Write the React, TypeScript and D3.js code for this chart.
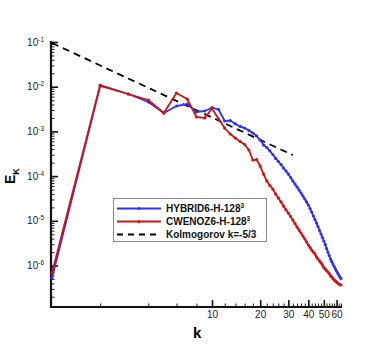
import { useRef, useEffect } from 'react';
import * as d3 from 'd3';

// wavenumbers 1..64
const waveNumbers = d3.range(1, 65);

// HYBRID6-H-128^3 energy spectrum
const hybridE = [
  5.25e-7, 1.04e-2, 6.87e-3, 4.55e-3, 2.58e-3, 3.7e-3, 4.1e-3, 2.72e-3, 2.86e-3, 3.39e-3,
  3.09e-3, 1.71e-3, 1.75e-3, 1.47e-3, 1.29e-3, 1.19e-3, 1.05e-3, 9.2e-4, 7.9e-4, 6.4e-4,
  4.97e-4, 4.37e-4, 3.65e-4, 3.04e-4, 2.48e-4, 2.12e-4, 1.82e-4, 1.52e-4, 1.3e-4, 1.11e-4,
  9.3e-5, 7.8e-5, 6.65e-5, 5.7e-5, 4.89e-5, 4.19e-5, 3.59e-5, 3.08e-5, 2.64e-5, 2.26e-5,
  1.88e-5, 1.57e-5, 1.28e-5, 1.07e-5, 8.9e-6, 7.45e-6, 6.07e-6, 5.07e-6, 4.23e-6, 3.53e-6,
  2.95e-6, 2.4e-6, 2.0e-6, 1.67e-6, 1.4e-6, 1.23e-6, 1.08e-6, 9.5e-7, 8.36e-7, 7.5e-7,
  6.8e-7, 6.1e-7, 5.5e-7, 5.1e-7,
];

// CWENOZ6-H-128^3 energy spectrum
const cwenozE = [
  6.8e-7, 1.09e-2, 6.87e-3, 5.04e-3, 2.58e-3, 7.23e-3, 5.31e-3, 2.1e-3, 2.0e-3, 3.25e-3,
  1.89e-3, 1.19e-3, 8.75e-4, 7.1e-4, 5.94e-4, 5.09e-4, 3.84e-4, 2.29e-4, 2.35e-4, 1.68e-4,
  1.11e-4, 7.8e-5, 6.16e-5, 5.14e-5, 3.98e-5, 3.24e-5, 2.64e-5, 2.14e-5, 1.75e-5, 1.49e-5,
  1.25e-5, 1.04e-5, 8.7e-6, 7.26e-6, 6.22e-6, 5.33e-6, 4.57e-6, 3.92e-6, 3.36e-6, 2.88e-6,
  2.53e-6, 2.22e-6, 2.0e-6, 1.81e-6, 1.55e-6, 1.4e-6, 1.26e-6, 1.14e-6, 1.03e-6, 9.0e-7,
  8.36e-7, 7.73e-7, 7.16e-7, 6.62e-7, 5.97e-7, 5.53e-7, 5.12e-7, 4.74e-7, 4.5e-7, 4.28e-7,
  4.06e-7, 3.86e-7, 3.76e-7, 3.66e-7,
];

// Kolmogorov k^-5/3 reference line endpoints
const kolmogorovK = [1, 32];
const kolmogorovE = [0.095, 2.95e-4];

const yMajorTicks = [1e-1, 1e-2, 1e-3, 1e-4, 1e-5, 1e-6];
const yTickExponents = ['-1', '-2', '-3', '-4', '-5', '-6'];
const xMajorTicks = [10, 20, 30, 40, 50, 60];
const xMinorTicks = [2, 4, 6, 8, 12, 14, 16, 18, 22, 24, 26, 28, 32, 34, 36, 38, 42, 44, 46, 48, 52, 54, 56, 58, 62, 64];

const legendLabels = ['HYBRID6-H-128', 'CWENOZ6-H-128', 'Kolmogorov k=-5/3'];

function App() {
  const svgRef = useRef(null);
  const width = 389;
  const height = 346;
  const blue = '#3131f2';
  const red = '#d01414';

  useEffect(() => {
    const svg = d3.select(svgRef.current);
    svg.selectAll('*').remove();
    svg.style('font-family', 'Arial, "Liberation Sans", sans-serif');

    const x = d3.scaleLog().domain([1, 64]).range([52, 341]);
    const y = d3.scaleLog().domain([1.18e-7, 0.1]).range([307, 42]);

    // y axis
    const yMinor = y.ticks().filter((d) => !yMajorTicks.some((m) => Math.abs(m - d) / m < 1e-6));
    svg
      .append('g')
      .attr('transform', 'translate(51,0)')
      .call(d3.axisLeft(y).tickValues(yMinor).tickSize(-3.5).tickFormat(() => '').tickSizeOuter(0))
      .call((g) => g.select('.domain').remove())
      .call((g) => g.selectAll('.tick line').attr('stroke-width', 1).attr('stroke', '#222'));
    svg
      .append('g')
      .attr('transform', 'translate(51,0)')
      .call(d3.axisLeft(y).tickValues(yMajorTicks).tickSize(-7).tickFormat(() => '').tickSizeOuter(0))
      .call((g) => g.select('.domain').remove())
      .call((g) => g.selectAll('.tick line').attr('stroke-width', 1.6).attr('stroke', '#111'));

    const yLabels = svg.append('g').attr('fill', '#222');
    yMajorTicks.forEach((t, i) => {
      const txt = yLabels
        .append('text')
        .attr('x', 44)
        .attr('y', y(t) + 3.5)
        .attr('text-anchor', 'end')
        .style('font-size', '10px');
      txt.append('tspan').text('10');
      txt.append('tspan').attr('dy', -4).style('font-size', '6.5px').text(yTickExponents[i]);
    });

    // x axis
    svg
      .append('g')
      .attr('transform', 'translate(0,307)')
      .call(d3.axisBottom(x).tickValues(xMinorTicks).tickSize(-3.5).tickFormat(() => '').tickSizeOuter(0))
      .call((g) => g.select('.domain').remove())
      .call((g) => g.selectAll('.tick line').attr('stroke-width', 1).attr('stroke', '#222'));
    svg
      .append('g')
      .attr('transform', 'translate(0,307)')
      .call(d3.axisBottom(x).tickValues(xMajorTicks).tickSize(-7).tickFormat(d3.format('d')).tickSizeOuter(0))
      .call((g) => g.select('.domain').remove())
      .call((g) => g.selectAll('.tick line').attr('stroke-width', 1.6).attr('stroke', '#111'))
      .call((g) =>
        g
          .selectAll('.tick text')
          .attr('y', 4)
          .attr('dy', '0.71em')
          .attr('fill', '#222')
          .style('font-size', '10px')
          .style('font-family', 'Arial, "Liberation Sans", sans-serif')
      );

    // axis lines
    svg.append('line').attr('x1', 51).attr('x2', 51).attr('y1', 41).attr('y2', 308).attr('stroke', '#111').attr('stroke-width', 2.2);
    svg.append('line').attr('x1', 50).attr('x2', 342).attr('y1', 307).attr('y2', 307).attr('stroke', '#111').attr('stroke-width', 2.2);

    // axis titles
    const yTitle = svg
      .append('text')
      .attr('transform', 'translate(15,184) rotate(-90)')
      .style('font-weight', 700)
      .style('font-size', '14px');
    yTitle.append('tspan').text('E');
    yTitle.append('tspan').attr('dy', 4).style('font-size', '9px').text('K');

    svg
      .append('text')
      .attr('x', 193)
      .attr('y', 338)
      .style('font-weight', 700)
      .style('font-size', '15px')
      .text('k');

    // Kolmogorov line
    const kolData = kolmogorovK.map((k, i) => ({ k, e: kolmogorovE[i] }));
    const kolLine = d3
      .line()
      .x((d) => x(d.k))
      .y((d) => y(d.e));
    svg
      .append('path')
      .datum(kolData)
      .attr('fill', 'none')
      .attr('stroke', '#000')
      .attr('stroke-width', 1.8)
      .attr('stroke-dasharray', '7,5')
      .attr('d', kolLine);

    const series = [
      { values: hybridE, color: blue },
      { values: cwenozE, color: red },
    ];

    series.forEach((s) => {
      const data = waveNumbers.map((k, i) => ({ k, e: s.values[i] }));
      const line = d3
        .line()
        .x((d) => x(d.k))
        .y((d) => y(d.e));
      svg
        .append('path')
        .datum(data)
        .attr('fill', 'none')
        .attr('stroke', s.color)
        .attr('stroke-width', 1.8)
        .attr('stroke-linejoin', 'round')
        .attr('d', line);
      svg
        .append('g')
        .selectAll('circle')
        .data(data)
        .join('circle')
        .attr('cx', (d) => x(d.k))
        .attr('cy', (d) => y(d.e))
        .attr('r', 1.6)
        .attr('fill', s.color);
    });

    // legend
    const legend = svg.append('g');
    legend
      .append('rect')
      .attr('x', 113.5)
      .attr('y', 198.5)
      .attr('width', 153)
      .attr('height', 43)
      .attr('fill', '#fff')
      .attr('stroke', '#888')
      .attr('stroke-width', 1);

    const rowY = [208.5, 221.5, 234.5];
    const rowColors = [blue, red, '#000'];
    legendLabels.forEach((label, i) => {
      legend
        .append('line')
        .attr('x1', 117)
        .attr('x2', 161)
        .attr('y1', rowY[i])
        .attr('y2', rowY[i])
        .attr('stroke', rowColors[i])
        .attr('stroke-width', 1.8)
        .attr('stroke-dasharray', i === 2 ? '6,5' : null);
      if (i < 2) {
        legend.append('circle').attr('cx', 139).attr('cy', rowY[i]).attr('r', 1.6).attr('fill', rowColors[i]);
      }
      const t = legend
        .append('text')
        .attr('x', 166)
        .attr('y', rowY[i] + 3.5)
        .style('font-weight', 700)
        .style('font-size', '10px')
        .attr('fill', '#111');
      t.append('tspan').text(label);
      if (i < 2) {
        t.append('tspan').attr('dy', -4).style('font-size', '6.5px').text('3');
      }
    });
  }, []);

  return (
    <svg
      ref={svgRef}
      width={width}
      height={height}
      viewBox={`0 0 ${width} ${height}`}
      style={{ position: 'absolute', left: 0, top: 0, background: '#fff' }}
    ></svg>
  );
}

export default App;
